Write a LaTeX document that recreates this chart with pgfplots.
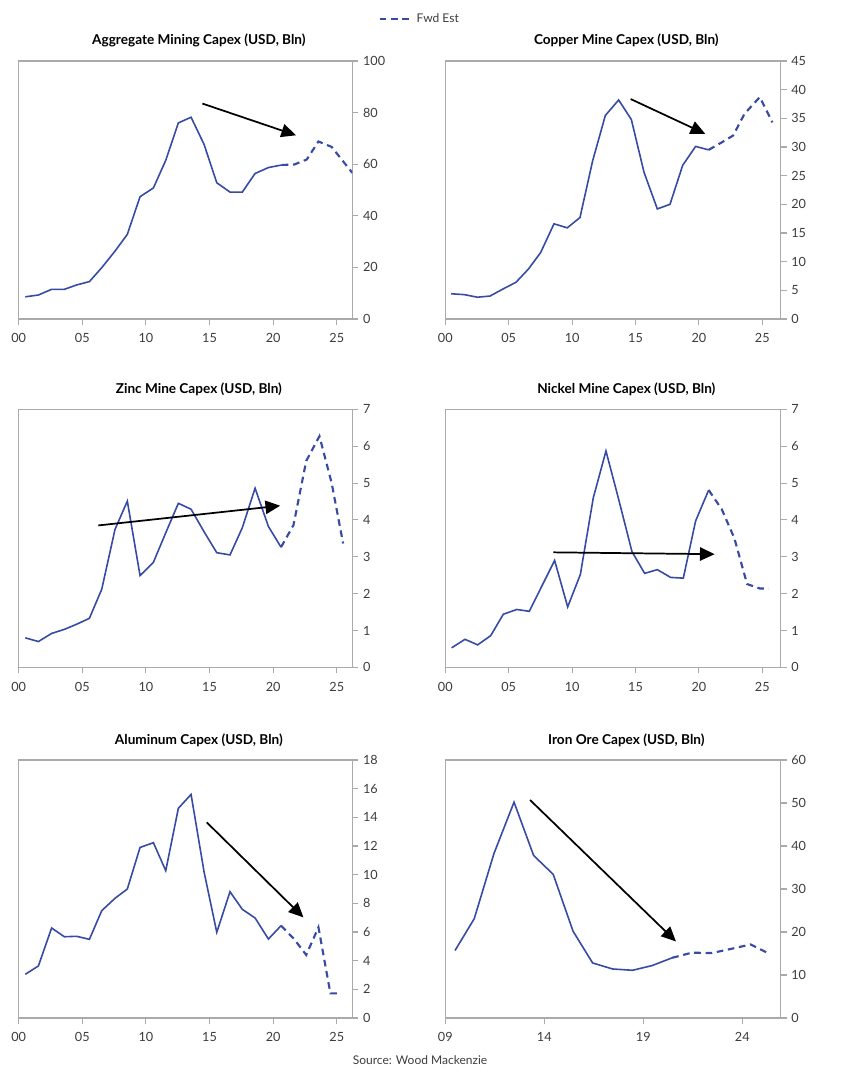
\documentclass[border=0pt]{standalone}
\usepackage{fontspec}
\setmainfont{Lato}
\usepackage{pgfplots}
\pgfplotsset{compat=1.18}
\usetikzlibrary{arrows.meta}

\definecolor{capblue}{RGB}{55,75,165}
\definecolor{axgray}{RGB}{170,170,170}
\definecolor{txtgray}{RGB}{60,60,60}

\tikzset{trend/.style={black, line width=1.3pt, -{Triangle[length=11pt, width=10pt]}}}

\pgfplotsset{
  capex/.style={
    scale only axis, height=193.5pt,
    anchor=north west,
    axis line style={axgray, line width=0.8pt},
    tick style={axgray, line width=0.8pt},
    major tick length=4.5pt,
    tick align=outside,
    xtick pos=bottom, ytick pos=right, yticklabel pos=right,
    ymin=0,
    ticklabel style={font=\fontsize{9.5}{11}\selectfont, text=txtgray},
    xticklabel style={yshift=-3pt},
    /pgf/number format/assume math mode=true,
    title style={font=\bfseries\fontsize{10.2}{12}\selectfont, anchor=base, at={(0.5,1)}, yshift=6pt, xshift=10pt},
    xtick={0,5,10,15,20,25}, xticklabels={00,05,10,15,20,25},
    xmin=0,
  },
  leftcol/.style={width=250.3pt, xmax=26.23},
  rightcol/.style={width=251.5pt, xmax=26.45},
  solid line/.style={capblue, line width=1.2pt, forget plot},
  est line/.style={capblue, line width=1.6pt, dash pattern=on 5pt off 3.5pt},
}

\begin{document}
\begin{tikzpicture}
\path[use as bounding box] (0,0) rectangle (630pt,-810pt);

% Aggregate
\begin{axis}[capex, leftcol, at={(14pt,-45.75pt)},
  title={Aggregate Mining Capex (USD, Bln)},
  ymax=100, ytick={0,20,...,100},
  legend style={at={(1.2026,1.163)}, anchor=center, draw=none, fill=none,
    font=\fontsize{9}{10}\selectfont, text=txtgray},
  legend image code/.code={\draw[#1] (0pt,0pt) -- (25pt,0pt);}]
\addplot[solid line] coordinates {
  (0.52,8.6) (1.55,9.3) (2.59,11.5) (3.59,11.5) (4.56,13.2) (5.56,14.5)
  (6.53,19.9) (7.57,26.3) (8.54,32.8) (9.54,47.4) (10.59,50.8) (11.56,61.5)
  (12.55,76.0) (13.55,78.2) (14.57,67.7) (15.57,52.8) (16.61,49.2) (17.58,49.2)
  (18.58,56.4) (19.63,58.7) (20.68,59.7)
};
\addplot[est line] coordinates {
  (20.68,59.7) (21.67,59.9) (22.64,61.8) (23.56,68.8) (24.6,66.7) (26.23,56.6)
};
\addlegendentry{Fwd Est}
\draw[trend] (axis cs:14.44,83.5) -- (axis cs:21.8,71.2);
\end{axis}

% Copper
\begin{axis}[capex, rightcol, at={(334pt,-45.75pt)},
  title={Copper Mine Capex (USD, Bln)},
  ymax=45, ytick={0,5,...,45}]
\addplot[solid line] coordinates {
  (0.45,4.4) (1.5,4.25) (2.52,3.8) (3.52,4.0) (4.52,5.2) (5.57,6.4)
  (6.55,8.7) (7.52,11.6) (8.57,16.6) (9.62,15.9) (10.62,17.7) (11.62,27.6)
  (12.62,35.5) (13.67,38.2) (14.67,34.8) (15.67,25.6) (16.72,19.2) (17.72,20.0)
  (18.72,26.8) (19.74,30.1) (20.77,29.5)
};
\addplot[est line] coordinates {
  (20.77,29.5) (21.8,30.8) (22.7,32.0) (23.6,35.8) (24.8,38.7) (25.8,34.3)
};
\draw[trend] (axis cs:14.62,38.36) -- (axis cs:20.5,32.3);
\end{axis}

% Zinc
\begin{axis}[capex, leftcol, at={(14pt,-307pt)},
  title={Zinc Mine Capex (USD, Bln)},
  ymax=7, ytick={0,1,...,7}]
\addplot[solid line] coordinates {
  (0.52,0.80) (1.55,0.70) (2.59,0.92) (3.59,1.03) (4.56,1.17) (5.56,1.33)
  (6.53,2.12) (7.57,3.74) (8.54,4.51) (9.54,2.49) (10.59,2.85) (11.56,3.65)
  (12.55,4.45) (13.55,4.29) (14.57,3.68) (15.57,3.11) (16.61,3.05) (17.58,3.79)
  (18.58,4.86) (19.63,3.82) (20.62,3.26)
};
\addplot[est line] coordinates {
  (20.62,3.26) (21.6,3.86) (22.6,5.6) (23.64,6.27) (24.6,5.0) (25.5,3.36)
};
\draw[trend] (axis cs:6.26,3.85) -- (axis cs:20.55,4.385);
\end{axis}

% Nickel
\begin{axis}[capex, rightcol, at={(334pt,-307pt)},
  title={Nickel Mine Capex (USD, Bln)},
  ymax=7, ytick={0,1,...,7}]
\addplot[solid line] coordinates {
  (0.5,0.53) (1.55,0.76) (2.55,0.61) (3.58,0.86) (4.57,1.44) (5.63,1.57)
  (6.62,1.52) (7.62,2.21) (8.62,2.90) (9.65,1.64) (10.65,2.52) (11.67,4.60)
  (12.67,5.87) (13.7,4.52) (14.72,3.14) (15.72,2.55) (16.72,2.65) (17.77,2.44)
  (18.77,2.42) (19.74,3.97) (20.77,4.81)
};
\addplot[est line] coordinates {
  (20.77,4.81) (21.8,4.29) (22.8,3.5) (23.8,2.26) (24.8,2.14) (25.5,2.14)
};
\draw[trend] (axis cs:8.52,3.12) -- (axis cs:21.24,3.07);
\end{axis}

% Aluminum
\begin{axis}[capex, leftcol, at={(14pt,-570pt)},
  title={Aluminum Capex (USD, Bln)},
  ymax=18, ytick={0,2,...,18}]
\addplot[solid line] coordinates {
  (0.52,3.05) (1.55,3.63) (2.59,6.28) (3.59,5.67) (4.56,5.70) (5.56,5.49)
  (6.53,7.49) (7.57,8.35) (8.54,9.0) (9.54,11.9) (10.59,12.23) (11.56,10.28)
  (12.55,14.63) (13.55,15.6) (14.57,10.2) (15.57,5.98) (16.61,8.81) (17.58,7.58)
  (18.58,6.98) (19.63,5.51) (20.62,6.44)
};
\addplot[est line] coordinates {
  (20.62,6.44) (21.6,5.56) (22.6,4.4) (23.56,6.33) (24.5,1.72) (25.3,1.72)
};
\draw[trend] (axis cs:14.78,13.65) -- (axis cs:22.38,7.02);
\end{axis}

% Iron ore
\begin{axis}[capex, rightcol, at={(334pt,-570pt)},
  title={Iron Ore Capex (USD, Bln)},
  xmin=9, xmax=25.94, xtick={9,14,19,24}, xticklabels={09,14,19,24},
  ymax=60, ytick={0,10,...,60}]
\addplot[solid line] coordinates {
  (9.49,15.7) (10.46,23.1) (11.46,38.3) (12.47,50.2) (13.46,37.8) (14.45,33.4)
  (15.45,20.2) (16.44,12.8) (17.45,11.4) (18.46,11.1) (19.45,12.2) (20.46,14.0)
};
\addplot[est line] coordinates {
  (20.46,14.0) (21.46,15.2) (22.45,15.1) (23.46,16.1) (24.42,17.1) (25.3,15.1)
};
\draw[trend] (axis cs:13.28,50.7) -- (axis cs:20.65,17.8);
\end{axis}

\node[font=\fontsize{9}{10}\selectfont, text=txtgray] at (315pt,-795pt) {Source: Wood Mackenzie};
\end{tikzpicture}
\end{document}
